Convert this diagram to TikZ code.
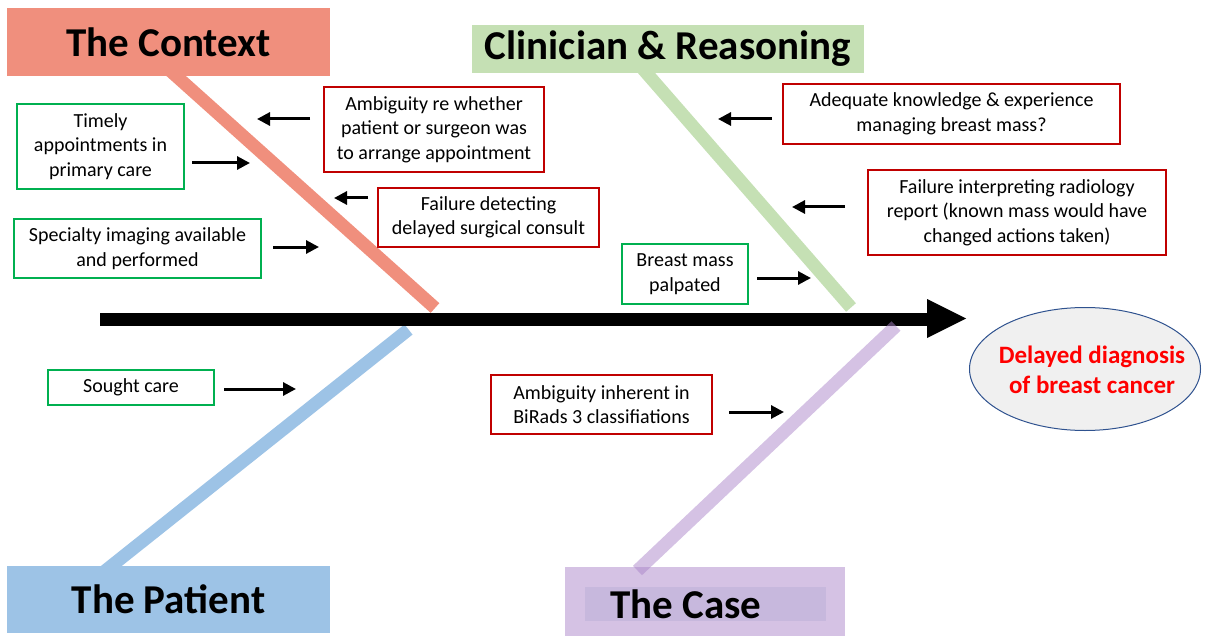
\documentclass[tikz,border=0pt]{standalone}
\usepackage{fontspec}
\setmainfont{Carlito}
\definecolor{contextA}{RGB}{240, 143, 125}
\definecolor{clinicianA}{RGB}{197, 224, 180}
\definecolor{patientA}{RGB}{157, 195, 230}
\definecolor{caseA}{RGB}{213, 194, 228}
\definecolor{caseB}{RGB}{199, 184, 221}
\definecolor{caseBone}{RGB}{171, 133, 201}
\definecolor{goodA}{RGB}{0, 176, 80}
\definecolor{gapA}{RGB}{192, 0, 0}
\definecolor{outcomeA}{RGB}{47, 82, 143}
\definecolor{outcomeB}{RGB}{240, 240, 240}
\usetikzlibrary{shapes.geometric, arrows.meta}

\begin{document}
\begin{tikzpicture}[x=1pt, y=-1pt,
  headbox/.style={rectangle, inner sep=0pt, font=\fontsize{41}{45}\selectfont\bfseries},
  goodbox/.style={rectangle, draw=goodA, line width=2.5pt, fill=white, align=center, inner sep=0pt, font=\fontsize{20}{24.5}\selectfont},
  gapbox/.style={goodbox, draw=gapA},
  bone/.style={line width=13pt, line cap=butt},
  causearrow/.style={line width=3pt, -{Triangle[length=13pt, width=13pt]}}]

\useasboundingbox (0,0) rectangle (1206,636);

%%% BONES
\draw[bone, contextA] (165,66) -- (435,308);
\draw[bone, clinicianA] (636,61) -- (851,307.5);
\draw[bone, patientA] (408.5,329.5) -- (100,575);

%%% SPINE
\draw[line width=13pt] (100,319.5) -- (929,319.5);
\fill (927,299) -- (966,318.5) -- (927,338) -- cycle;

%%% HEADERS
\node[headbox, fill=contextA, minimum width=323pt, minimum height=68pt] (context) at (168.5,42) {The Context};
\node[headbox, fill=clinicianA, minimum width=392pt, minimum height=48pt] (clinician) at (668,49) {Clinician \& Reasoning};
\node[headbox, fill=patientA, minimum width=323pt, minimum height=67pt] (patient) at (168.5,599.5) {The Patient};

\node[headbox, fill=caseA, minimum width=280pt, minimum height=69pt] (case) at (705,601.5) {};
\node[headbox, fill=caseB, minimum width=241pt, minimum height=34pt] (caseband) at (705.5,604) {};
\node[headbox] (casetitle) at (686,604) {The Case};

\draw[bone, caseBone, draw opacity=0.5] (896,326) -- (637.5,570.5);

%%% OUTCOME
\node[ellipse, draw=outcomeA, line width=1pt, fill=outcomeB, minimum width=231pt, minimum height=123pt, inner sep=0pt] (outcome) at (1085,369) {};
\node[align=center, text=red, inner sep=0pt, font=\fontsize{25}{29.5}\selectfont\bfseries] (outcometext) at (1092,370) {Delayed diagnosis\\of breast cancer};

%%% CAUSES
\node[goodbox, minimum width=167pt, minimum height=85pt] (timely) at (100.5,146.5) {Timely\\appointments in\\primary care};
\node[goodbox, minimum width=247pt, minimum height=59pt] (specialty) at (137.5,248.5) {Specialty imaging available\\and performed};
\node[goodbox, minimum width=166pt, minimum height=35pt] (sought) at (131,387.5) {Sought care};
\node[goodbox, minimum width=126pt, minimum height=60pt] (palpated) at (685,274) {Breast mass\\palpated};

\node[gapbox, minimum width=220pt, minimum height=85pt] (ambigwho) at (434,129.5) {Ambiguity re whether\\patient or surgeon was\\to arrange appointment};
\node[gapbox, minimum width=221pt, minimum height=59pt] (faildetect) at (488.5,217.5) {Failure detecting\\delayed surgical consult};
\node[gapbox, minimum width=337pt, minimum height=60pt] (knowledge) at (951.5,114) {Adequate knowledge \& experience\\managing breast mass?};
\node[gapbox, minimum width=298pt, minimum height=85pt] (failradio) at (1017,212.5) {Failure interpreting radiology\\report (known mass would have\\changed actions taken)};
\node[gapbox, minimum width=221pt, minimum height=59pt] (birads) at (601.5,404.5) {Ambiguity inherent in\\BiRads 3 classifiations};

%%% ARROWS
\coordinate (ambigwho-tail) at (310,119);
\coordinate (ambigwho-tip) at (257,119);
\coordinate (timely-tail) at (192,163);
\coordinate (timely-tip) at (250,163);
\coordinate (faildetect-tail) at (368,198);
\coordinate (faildetect-tip) at (334,198);
\coordinate (specialty-tail) at (273,247);
\coordinate (specialty-tip) at (319,247);
\coordinate (knowledge-tail) at (772,119);
\coordinate (knowledge-tip) at (718,119);
\coordinate (failradio-tail) at (845,207);
\coordinate (failradio-tip) at (792,207);
\coordinate (palpated-tail) at (757,278);
\coordinate (palpated-tip) at (811,278);
\coordinate (sought-tail) at (224,389);
\coordinate (sought-tip) at (296,389);
\coordinate (birads-tail) at (729,412);
\coordinate (birads-tip) at (784,412);

\draw[causearrow] (ambigwho-tail) -- (ambigwho-tip);
\draw[causearrow] (timely-tail) -- (timely-tip);
\draw[causearrow] (faildetect-tail) -- (faildetect-tip);
\draw[causearrow] (specialty-tail) -- (specialty-tip);
\draw[causearrow] (knowledge-tail) -- (knowledge-tip);
\draw[causearrow] (failradio-tail) -- (failradio-tip);
\draw[causearrow] (palpated-tail) -- (palpated-tip);
\draw[causearrow] (sought-tail) -- (sought-tip);
\draw[causearrow] (birads-tail) -- (birads-tip);

\end{tikzpicture}
\end{document}
